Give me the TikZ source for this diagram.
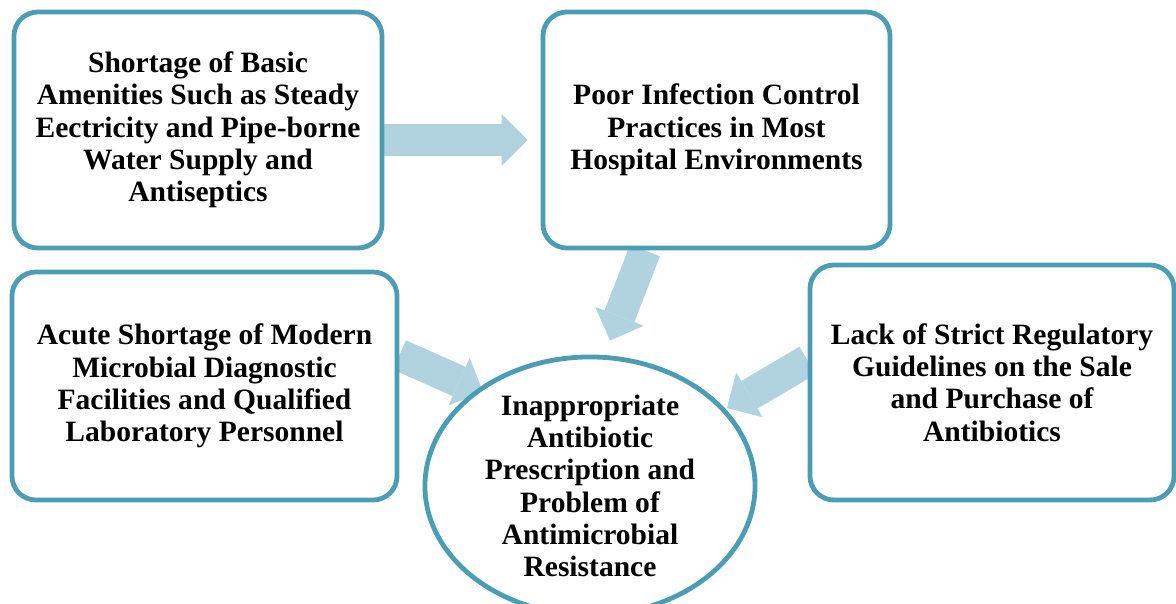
\documentclass[tikz,border=0pt]{standalone}
\usepackage{fontspec}
\setmainfont{Liberation Serif}
\usetikzlibrary{calc}
\usetikzlibrary{arrows.meta}
\usetikzlibrary{shapes.geometric}
\usetikzlibrary{backgrounds}
\definecolor{rimblue}{HTML}{4A9DB5}
\definecolor{flowblue}{HTML}{B0D3DF}

\begin{document}
\begin{tikzpicture}[x=0.025cm,y=-0.025cm,
        norm/.style={draw=rimblue,rectangle,rounded corners=0.6cm,line width=3.4pt,fill=white,align=center,
          font=\fontsize{21}{23}\selectfont\bfseries},
        oval/.style={norm,ellipse,inner sep=0pt},
        flow/.style={draw=flowblue,line width=0.8cm,-{Triangle[width=1.3cm,length=0.65cm,line width=0pt,fill=flowblue]}}
      ]
      \useasboundingbox (0,0) rectangle (1176,604);
      \node[norm,minimum width=9.2cm,minimum height=5.9cm] (basic) at (198,130)
        {Shortage of Basic\\Amenities Such as Steady\\Eectricity and Pipe-borne\\Water Supply and\\Antiseptics};
      \node[norm,minimum width=8.675cm,minimum height=5.9cm] (ipc) at (716.5,130)
        {Poor Infection Control\\Practices in Most\\Hospital Environments};
      \node[norm,minimum width=9.625cm,minimum height=5.7cm] (lab) at (204.5,386)
        {Acute Shortage of Modern\\Microbial Diagnostic\\Facilities and Qualified\\Laboratory Personnel};
      \node[norm,minimum width=9.1cm,minimum height=5.875cm] (reg) at (992,382.5)
        {Lack of Strict Regulatory\\Guidelines on the Sale\\and Purchase of\\Antibiotics};
      \node[oval,minimum width=8.25cm,minimum height=5.7cm] (amr) at (590,486)
        {Inappropriate\\Antibiotic\\Prescription and\\Problem of\\Antimicrobial\\Resistance};
      % Connections.
      \begin{scope}[on background layer]
        \draw[flow] ($(basic.east)+(0,10)$) -- ($(ipc.west)+(-13,10)$);
        \draw[flow] ($(ipc.south)+(-71.5,0)$) -- ($(amr.north)+(20,-14)$);
        \draw[flow] ($(lab.east)+(0,-31)$) -- ($(amr.center)+(-107,-94)$);
        \draw[flow] ($(reg.west)+(0,-22)$) -- ($(amr.center)+(137,-78)$);
      \end{scope}
    \end{tikzpicture}
\end{document}
